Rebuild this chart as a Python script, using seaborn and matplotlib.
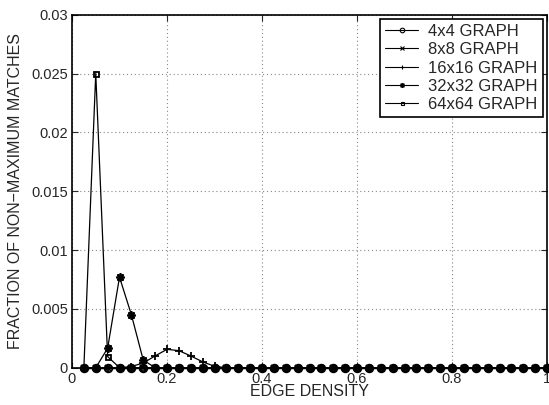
import matplotlib
matplotlib.use("Agg")
import matplotlib.pyplot as plt
import seaborn as sns
import pandas as pd

# Edge density levels
density = [0.025, 0.05, 0.075, 0.1, 0.125, 0.15, 0.175, 0.2, 0.225, 0.25,
           0.275, 0.3, 0.325, 0.35, 0.375, 0.4, 0.425, 0.45, 0.475, 0.5,
           0.525, 0.55, 0.575, 0.6, 0.625, 0.65, 0.675, 0.7, 0.725, 0.75,
           0.775, 0.8, 0.825, 0.85, 0.875, 0.9, 0.925, 0.95, 0.975, 1.0]

# Fraction of non-maximum matches for each graph size
g4 = [0, 0, 0, 0, 0, 0, 0, 0, 0, 0,
      0, 0, 0, 0, 0, 0, 0, 0, 0, 0,
      0, 0, 0, 0, 0, 0, 0, 0, 0, 0,
      0, 0, 0, 0, 0, 0, 0, 0, 0, 0]
g8 = [0, 0, 0, 0, 0, 0, 0, 0, 0, 0,
      0, 0, 0, 0, 0, 0, 0, 0, 0, 0,
      0, 0, 0, 0, 0, 0, 0, 0, 0, 0,
      0, 0, 0, 0, 0, 0, 0, 0, 0, 0]
g16 = [0, 0, 0, 0, 0.0001, 0.0004, 0.0010, 0.00156, 0.00145, 0.0010,
       0.0005, 0.00012, 0, 0, 0, 0, 0, 0, 0, 0,
       0, 0, 0, 0, 0, 0, 0, 0, 0, 0,
       0, 0, 0, 0, 0, 0, 0, 0, 0, 0]
g32 = [0, 0, 0.00165, 0.0077, 0.0045, 0.00065, 0, 0, 0, 0,
       0, 0, 0, 0, 0, 0, 0, 0, 0, 0,
       0, 0, 0, 0, 0, 0, 0, 0, 0, 0,
       0, 0, 0, 0, 0, 0, 0, 0, 0, 0]
g64 = [0, 0.025, 0.00095, 0, 0, 0, 0, 0, 0, 0,
       0, 0, 0, 0, 0, 0, 0, 0, 0, 0,
       0, 0, 0, 0, 0, 0, 0, 0, 0, 0,
       0, 0, 0, 0, 0, 0, 0, 0, 0, 0]

labels = ["4x4 GRAPH", "8x8 GRAPH", "16x16 GRAPH", "32x32 GRAPH", "64x64 GRAPH"]
series = [g4, g8, g16, g32, g64]
markers = ["o", "x", "+", (8, 2, 0), "s"]
msizes = [5.5, 5, 6, 6, 3.6]

xticks = [0, 0.2, 0.4, 0.6, 0.8, 1]
yticks = [0, 0.005, 0.01, 0.015, 0.02, 0.025, 0.03]

sns.set_style("ticks")
plt.rcParams["font.family"] = ["Liberation Sans", "DejaVu Sans"]
plt.rcParams["xtick.direction"] = "in"
plt.rcParams["ytick.direction"] = "in"

fig = plt.figure(figsize=(5.49, 4.05), dpi=100)
ax = fig.add_axes([72 / 549, 1 - 367.7 / 405, (547 - 72) / 549, (367.7 - 14.7) / 405])

for name, vals, mk, ms in zip(labels, series, markers, msizes):
    df = pd.DataFrame({"density": density, "fraction": vals})
    sns.lineplot(data=df, x="density", y="fraction", ax=ax, color="black",
                 linewidth=0.9, marker=mk, markersize=ms,
                 markerfacecolor="none", markeredgecolor="black",
                 markeredgewidth=1.3, label=name, clip_on=False)

ax.set_xlim(0, 1)
ax.set_ylim(0, 0.03)
ax.set_xticks(xticks)
ax.set_xticklabels(["0", "0.2", "0.4", "0.6", "0.8", "1"])
ax.set_yticks(yticks)
ax.set_yticklabels(["0", "0.005", "0.01", "0.015", "0.02", "0.025", "0.03"])
ax.tick_params(axis="both", labelsize=10.5, length=4, width=0.8,
               top=True, right=True, direction="in", pad=3)
ax.grid(True, linestyle=(0, (1, 2.5)), color="#888888", linewidth=0.8)
for sp in ax.spines.values():
    sp.set_visible(True)
    sp.set_linewidth(1.2)
    sp.set_color("black")

ax.set_xlabel("EDGE DENSITY", fontsize=11.5, labelpad=-1)
ax.set_ylabel("FRACTION OF NON\u2212MAXIMUM MATCHES", fontsize=11.5, labelpad=6)

leg = ax.legend(loc="upper right", fontsize=12, frameon=True, fancybox=False,
                edgecolor="black", framealpha=1, borderpad=0.3,
                labelspacing=0.2, handlelength=2.0, handletextpad=0.6,
                borderaxespad=0.25, markerscale=0.6)
leg.get_frame().set_linewidth(1.2)
for h in leg.legend_handles:
    h.set_markeredgewidth(0.8)
    h.set_linewidth(0.8)

fig.savefig("out.png", dpi=100)
